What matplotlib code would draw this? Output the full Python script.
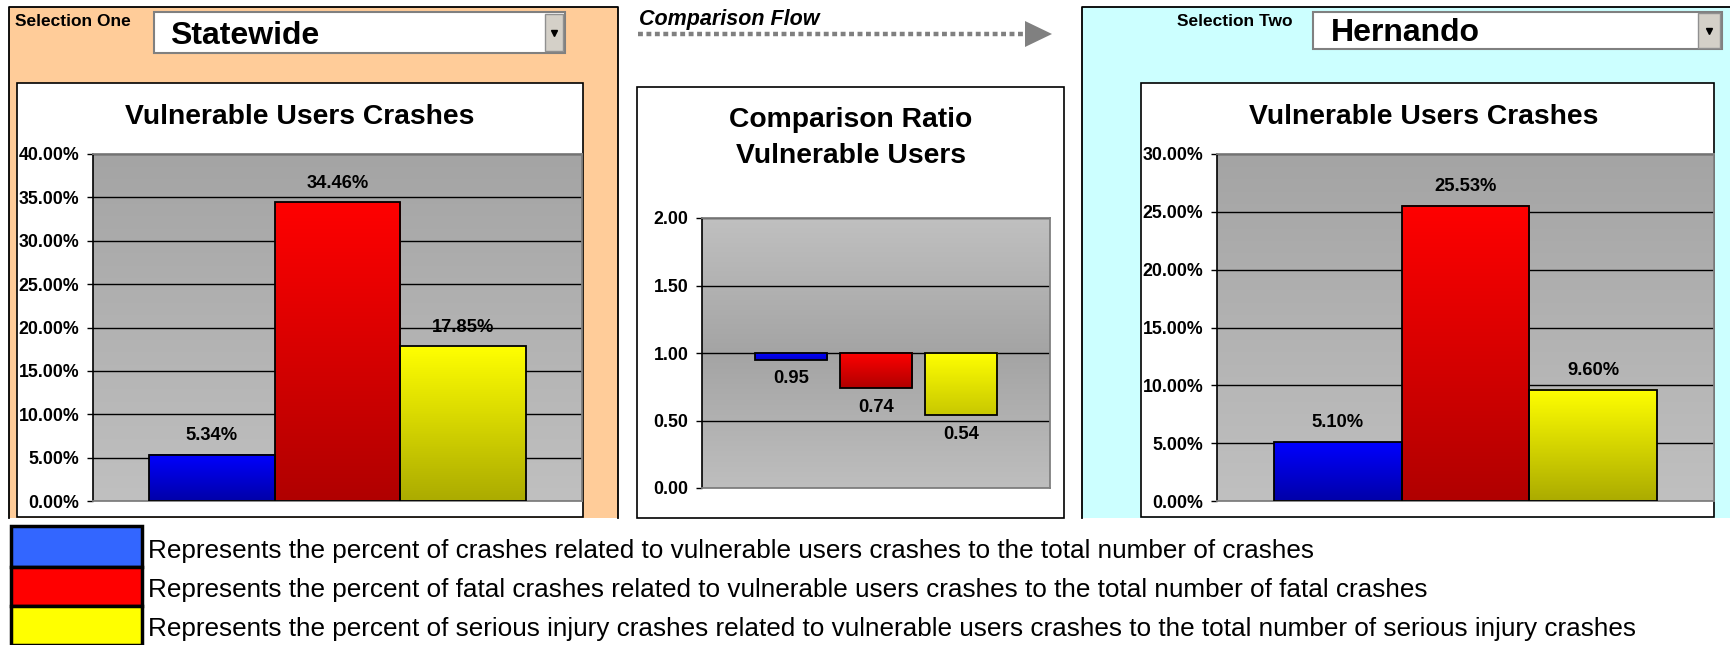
import numpy as np
import matplotlib
matplotlib.use("Agg")
import matplotlib.pyplot as plt
from matplotlib.patches import Rectangle, Polygon
from matplotlib.ticker import PercentFormatter, FormatStrFormatter
from matplotlib.colors import to_rgb

plt.rcParams['font.family'] = ['Liberation Sans', 'DejaVu Sans']

# data
categories = ["All crashes", "Fatal crashes", "Serious injury crashes"]
statewide = [0.0534, 0.3446, 0.1785]
hernando = [0.0510, 0.2553, 0.0960]
ratio = [0.95, 0.74, 0.54]
selection_one = "Statewide"
selection_two = "Hernando"
legend_texts = [
    "Represents the percent of crashes related to vulnerable users crashes to the total number of crashes",
    "Represents the percent of fatal crashes related to vulnerable users crashes to the total number of fatal crashes",
    "Represents the percent of serious injury crashes related to vulnerable users crashes to the total number of serious injury crashes",
]
legend_colors = ['#3366FF', '#FF0000', '#FFFF00']

# bar gradients (top colour, bottom colour)
bar_grads = [('#0000FF', '#0000A8'), ('#FF0000', '#B00000'), ('#FFFF00', '#ABAB00')]
ratio_grads = [('#0000FF', '#0000C8'), ('#FF0000', '#B00000'), ('#FFFF00', '#C8C800')]

W, H = 1730, 645
fig = plt.figure(figsize=(W / 100, H / 100), dpi=100)


def box(x0, y0, x1, y1):
    return [x0 / W, 1 - y1 / H, (x1 - x0) / W, (y1 - y0) / H]


def grad_img(stops, n=256):
    # stops: list of (pos, colour), pos 0 = top
    pos = np.linspace(0, 1, n)
    ps = [p for p, c in stops]
    cols = np.array([to_rgb(c) for p, c in stops])
    img = np.stack([np.interp(pos, ps, cols[:, k]) for k in range(3)], axis=-1)
    return img[:, None, :]


def fill_bars(ax, bars, grads):
    for b, (top, bot) in zip(bars, grads):
        x0 = b.get_x()
        x1 = x0 + b.get_width()
        y0 = min(b.get_y(), b.get_y() + b.get_height())
        y1 = max(b.get_y(), b.get_y() + b.get_height())
        ax.imshow(grad_img([(0, top), (1, bot)]), extent=(x0, x1, y0, y1),
                  aspect='auto', origin='upper', zorder=2, interpolation='bilinear')


def style_axes(ax):
    for s in ['top', 'right', 'bottom']:
        ax.spines[s].set_color('#808080')
        ax.spines[s].set_linewidth(1.3)
    ax.spines['left'].set_color('black')
    ax.spines['left'].set_linewidth(1.2)
    ax.set_xticks([])
    ax.tick_params(axis='y', length=4.3, width=1, pad=5.5, labelsize=12.8)
    for lab in ax.get_yticklabels():
        lab.set_fontweight('bold')
    ax.set_axisbelow(True)
    ax.yaxis.grid(True, color='black', lw=1.0)


def pct_chart(ax, values, ymax):
    x = np.arange(len(values))
    bars = ax.bar(x, values, width=1.0, facecolor='none', edgecolor='black', lw=1.3, zorder=3)
    fill_bars(ax, bars, bar_grads)
    xl = (-0.945, 2.945)
    ax.imshow(grad_img([(0, '#A4A4A4'), (1, '#C0C0C0')]), extent=(xl[0], xl[1], 0, ymax),
              aspect='auto', origin='upper', zorder=0, interpolation='bilinear')
    ax.set_xlim(xl)
    ax.set_ylim(0, ymax)
    ax.set_yticks(np.arange(0, ymax + 1e-9, 0.05))
    ax.yaxis.set_major_formatter(PercentFormatter(1, decimals=2))
    style_axes(ax)
    for b, v in zip(bars, values):
        ax.annotate(f"{v:.2%}", (b.get_x() + b.get_width() / 2, v), xytext=(0, 13.7),
                    textcoords='offset points', ha='center', va='center',
                    fontsize=13.2, fontweight='bold', zorder=4)


# background panels
bg = fig.add_axes([0, 0, 1, 1])
bg.set_xlim(0, W)
bg.set_ylim(H, 0)
bg.axis('off')

bg.add_patch(Rectangle((9, 7), 609, 511, fc='#FFCC99', ec='none'))
bg.plot([9, 9, 618, 618], [518, 7, 7, 518], color='black', lw=1.3)
bg.add_patch(Rectangle((1082, 7), 660, 511, fc='#CCFFFF', ec='none'))
bg.plot([1082, 1082, W], [518, 7, 7], color='black', lw=1.3)

for (x0, y0, x1, y1) in [(17, 83, 583, 517), (637, 87, 1064, 518), (1141, 83, 1714, 517)]:
    bg.add_patch(Rectangle((x0, y0), x1 - x0, y1 - y0, fc='white', ec='black', lw=1.2))

# selection widgets
bg.text(15, 21, "Selection One", fontsize=12.5, fontweight='bold', ha='left', va='center')
bg.add_patch(Rectangle((154, 12), 411, 41, fc='white', ec='#808080', lw=1.5))
bg.add_patch(Rectangle((545, 14), 18, 37, fc='#D4D0C8', ec='#909090', lw=1))
bg.plot([554], [33], marker='v', color='black', markersize=4)
bg.text(170, 36, selection_one, fontsize=23, fontweight='bold', ha='left', va='center')

bg.text(1177, 21, "Selection Two", fontsize=12.5, fontweight='bold', ha='left', va='center')
bg.add_patch(Rectangle((1313, 12), 409, 37, fc='white', ec='#808080', lw=1.5))
bg.add_patch(Rectangle((1698, 13), 22, 35, fc='#D4D0C8', ec='#909090', lw=1))
bg.plot([1709], [31], marker='v', color='black', markersize=4)
bg.text(1331, 33, selection_two, fontsize=23, fontweight='bold', ha='left', va='center')

# comparison flow arrow
bg.text(639, 20, "Comparison Flow", fontsize=15.5, fontweight='bold', style='italic',
        ha='left', va='center')
bg.plot([638, 1025], [34, 34], color='#808080', lw=3.2, linestyle=(0, (1.1, 0.8)),
        dash_capstyle='butt')
bg.add_patch(Polygon([(1025, 21), (1052, 34), (1025, 47)], closed=True, fc='#808080', ec='none'))

# chart titles
bg.text(300, 117, "Vulnerable Users Crashes", fontsize=20.3, fontweight='bold', ha='center', va='center')
bg.text(851, 120, "Comparison Ratio", fontsize=20.3, fontweight='bold', ha='center', va='center')
bg.text(851, 156, "Vulnerable Users", fontsize=20.3, fontweight='bold', ha='center', va='center')
bg.text(1424, 117, "Vulnerable Users Crashes", fontsize=20.3, fontweight='bold', ha='center', va='center')

# legend
rows = [(526, 567), (567, 606), (606, 645)]
baselines = [558, 597, 636]
for (y0, y1), c, t, yb in zip(rows, legend_colors, legend_texts, baselines):
    bg.add_patch(Rectangle((11, y0), 131, y1 - y0, fc=c, ec='black', lw=2.5))
    bg.text(148, yb, t, fontsize=18.8, ha='left', va='baseline')

# charts
ax1 = fig.add_axes(box(93, 154, 582, 501))
pct_chart(ax1, statewide, 0.40)

ax3 = fig.add_axes(box(1217, 154, 1714, 501))
pct_chart(ax3, hernando, 0.30)

ax2 = fig.add_axes(box(702, 218, 1050, 488))
x = np.arange(len(ratio))
rb = ax2.bar(x, np.array(ratio) - 1, bottom=1, width=0.85, facecolor='none',
             edgecolor='black', lw=1.3, zorder=3)
fill_bars(ax2, rb, ratio_grads)
xl2 = (-1.047, 3.047)
ax2.imshow(grad_img([(0, '#C0C0C0'), (0.5, '#A4A4A4'), (1, '#BEBEBE')]), extent=(xl2[0], xl2[1], 0, 2),
           aspect='auto', origin='upper', zorder=0, interpolation='bilinear')
ax2.set_xlim(xl2)
ax2.set_ylim(0, 2)
ax2.set_yticks(np.arange(0, 2.01, 0.5))
ax2.yaxis.set_major_formatter(FormatStrFormatter('%.2f'))
style_axes(ax2)
for b, v in zip(rb, ratio):
    ax2.annotate(f"{v:.2f}", (b.get_x() + b.get_width() / 2, v), xytext=(0, -13.7),
                 textcoords='offset points', ha='center', va='center',
                 fontsize=13.2, fontweight='bold', zorder=4)

fig.savefig("out.png", dpi=100)
